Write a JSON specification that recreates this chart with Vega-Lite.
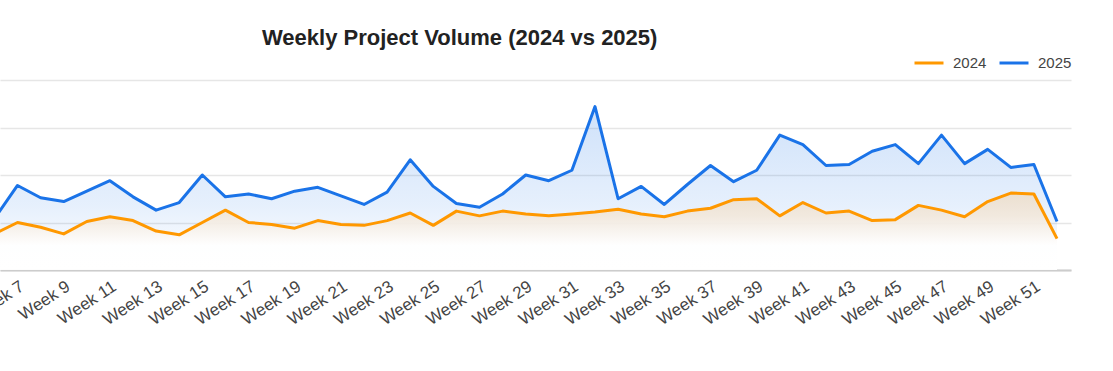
{
  "$schema": "https://vega.github.io/schema/vega-lite/v6.json",
  "width": 1071,
  "height": 190,
  "autosize": {"type": "none"},
  "padding": {"left": 0, "top": 80, "right": 42, "bottom": 101},
  "background": "#ffffff",
  "title": {
    "text": "Weekly Project Volume (2024 vs 2025)",
    "anchor": "start",
    "frame": "group",
    "dx": 262,
    "dy": 23,
    "font": "Liberation Sans",
    "fontSize": 22,
    "fontWeight": "bold",
    "color": "#222222",
    "offset": 20
  },
  "config": {
    "view": {"stroke": null},
    "font": "Liberation Sans"
  },
  "data": {
    "values": [
      {"week": 6, "year": "2024", "value": 38}, {"week": 6, "year": "2025", "value": 54},
      {"week": 7, "year": "2024", "value": 50}, {"week": 7, "year": "2025", "value": 89},
      {"week": 8, "year": "2024", "value": 45}, {"week": 8, "year": "2025", "value": 76},
      {"week": 9, "year": "2024", "value": 38}, {"week": 9, "year": "2025", "value": 72},
      {"week": 10, "year": "2024", "value": 51}, {"week": 10, "year": "2025", "value": 83},
      {"week": 11, "year": "2024", "value": 56}, {"week": 11, "year": "2025", "value": 94},
      {"week": 12, "year": "2024", "value": 52}, {"week": 12, "year": "2025", "value": 77},
      {"week": 13, "year": "2024", "value": 41}, {"week": 13, "year": "2025", "value": 63},
      {"week": 14, "year": "2024", "value": 37}, {"week": 14, "year": "2025", "value": 71},
      {"week": 15, "year": "2024", "value": 50}, {"week": 15, "year": "2025", "value": 100},
      {"week": 16, "year": "2024", "value": 63}, {"week": 16, "year": "2025", "value": 77},
      {"week": 17, "year": "2024", "value": 50}, {"week": 17, "year": "2025", "value": 80},
      {"week": 18, "year": "2024", "value": 48}, {"week": 18, "year": "2025", "value": 75},
      {"week": 19, "year": "2024", "value": 44}, {"week": 19, "year": "2025", "value": 83},
      {"week": 20, "year": "2024", "value": 52}, {"week": 20, "year": "2025", "value": 87},
      {"week": 21, "year": "2024", "value": 48}, {"week": 21, "year": "2025", "value": 78},
      {"week": 22, "year": "2024", "value": 47}, {"week": 22, "year": "2025", "value": 69},
      {"week": 23, "year": "2024", "value": 52}, {"week": 23, "year": "2025", "value": 82},
      {"week": 24, "year": "2024", "value": 60}, {"week": 24, "year": "2025", "value": 116},
      {"week": 25, "year": "2024", "value": 47}, {"week": 25, "year": "2025", "value": 88},
      {"week": 26, "year": "2024", "value": 62}, {"week": 26, "year": "2025", "value": 70},
      {"week": 27, "year": "2024", "value": 57}, {"week": 27, "year": "2025", "value": 66},
      {"week": 28, "year": "2024", "value": 62}, {"week": 28, "year": "2025", "value": 80},
      {"week": 29, "year": "2024", "value": 59}, {"week": 29, "year": "2025", "value": 100},
      {"week": 30, "year": "2024", "value": 57}, {"week": 30, "year": "2025", "value": 94},
      {"week": 31, "year": "2024", "value": 59}, {"week": 31, "year": "2025", "value": 105},
      {"week": 32, "year": "2024", "value": 61}, {"week": 32, "year": "2025", "value": 172},
      {"week": 33, "year": "2024", "value": 64}, {"week": 33, "year": "2025", "value": 75},
      {"week": 34, "year": "2024", "value": 59}, {"week": 34, "year": "2025", "value": 88},
      {"week": 35, "year": "2024", "value": 56}, {"week": 35, "year": "2025", "value": 69},
      {"week": 36, "year": "2024", "value": 62}, {"week": 36, "year": "2025", "value": 90},
      {"week": 37, "year": "2024", "value": 65}, {"week": 37, "year": "2025", "value": 110},
      {"week": 38, "year": "2024", "value": 74}, {"week": 38, "year": "2025", "value": 93},
      {"week": 39, "year": "2024", "value": 75}, {"week": 39, "year": "2025", "value": 105},
      {"week": 40, "year": "2024", "value": 57}, {"week": 40, "year": "2025", "value": 142},
      {"week": 41, "year": "2024", "value": 71}, {"week": 41, "year": "2025", "value": 132},
      {"week": 42, "year": "2024", "value": 60}, {"week": 42, "year": "2025", "value": 110},
      {"week": 43, "year": "2024", "value": 62}, {"week": 43, "year": "2025", "value": 111},
      {"week": 44, "year": "2024", "value": 52}, {"week": 44, "year": "2025", "value": 125},
      {"week": 45, "year": "2024", "value": 53}, {"week": 45, "year": "2025", "value": 132},
      {"week": 46, "year": "2024", "value": 68}, {"week": 46, "year": "2025", "value": 112},
      {"week": 47, "year": "2024", "value": 63}, {"week": 47, "year": "2025", "value": 142},
      {"week": 48, "year": "2024", "value": 56}, {"week": 48, "year": "2025", "value": 112},
      {"week": 49, "year": "2024", "value": 72}, {"week": 49, "year": "2025", "value": 127},
      {"week": 50, "year": "2024", "value": 81}, {"week": 50, "year": "2025", "value": 108},
      {"week": 51, "year": "2024", "value": 80}, {"week": 51, "year": "2025", "value": 111},
      {"week": 52, "year": "2024", "value": 33}, {"week": 52, "year": "2025", "value": 51}
    ]
  },
  "encoding": {
    "x": {
      "field": "week",
      "type": "quantitative",
      "scale": {"domain": [6.242, 52.606], "nice": false, "zero": false},
      "axis": {
        "title": null,
        "values": [7, 9, 11, 13, 15, 17, 19, 21, 23, 25, 27, 29, 31, 33, 35, 37, 39, 41, 43, 45, 47, 49, 51],
        "labelExpr": "'Week ' + datum.value",
        "labelAngle": -33,
        "labelAlign": "right",
        "labelBaseline": "top",
        "labelFontSize": 17,
        "labelColor": "#444444",
        "labelFont": "Liberation Sans",
        "labelPadding": 8,
        "labelOverlap": false,
        "labelBound": false,
        "labelFlush": false,
        "ticks": false,
        "grid": false,
        "domain": true,
        "domainColor": "#cccccc",
        "domainWidth": 2
      }
    },
    "y": {
      "field": "value",
      "type": "quantitative",
      "scale": {"domain": [0, 200], "nice": false},
      "axis": {
        "title": null,
        "values": [0, 50, 100, 150, 200],
        "labels": false,
        "ticks": false,
        "domain": false,
        "grid": true,
        "gridColor": "#e6e6e6",
        "gridWidth": 1.5
      }
    }
  },
  "layer": [
    {
      "transform": [{"filter": "datum.year === '2025'"}],
      "mark": {
        "type": "area",
        "clip": true,
        "fill": {
          "gradient": "linear",
          "x1": 0, "y1": 0, "x2": 0, "y2": 1,
          "stops": [
            {"offset": 0, "color": "rgba(26,115,232,0.21)"},
            {"offset": 0.6, "color": "rgba(26,115,232,0.11)"},
            {"offset": 1, "color": "rgba(26,115,232,0)"}
          ]
        }
      }
    },
    {
      "transform": [{"filter": "datum.year === '2024'"}],
      "mark": {
        "type": "area",
        "clip": true,
        "fill": {
          "gradient": "linear",
          "x1": 0, "y1": 0, "x2": 0, "y2": 1,
          "stops": [
            {"offset": 0, "color": "rgba(236,222,204,0.92)"},
            {"offset": 0.3, "color": "rgba(242,232,220,0.92)"},
            {"offset": 0.68, "color": "rgba(255,255,255,0.92)"},
            {"offset": 1, "color": "rgba(255,255,255,0.92)"}
          ]
        }
      }
    },
    {
      "mark": {"type": "line", "clip": true, "strokeWidth": 3, "strokeJoin": "round"},
      "encoding": {
        "color": {
          "field": "year",
          "type": "nominal",
          "scale": {"domain": ["2024", "2025"], "range": ["#FF9800", "#1A73E8"]},
          "legend": {
            "title": null,
            "orient": "none",
            "legendX": 913,
            "legendY": -33,
            "direction": "horizontal",
            "symbolType": "stroke",
            "symbolSize": 841,
            "symbolStrokeWidth": 3,
            "labelFontSize": 15,
            "labelColor": "#444444",
            "labelFont": "Liberation Sans",
            "labelOffset": 8,
            "columnPadding": 6
          }
        }
      }
    }
  ]
}
